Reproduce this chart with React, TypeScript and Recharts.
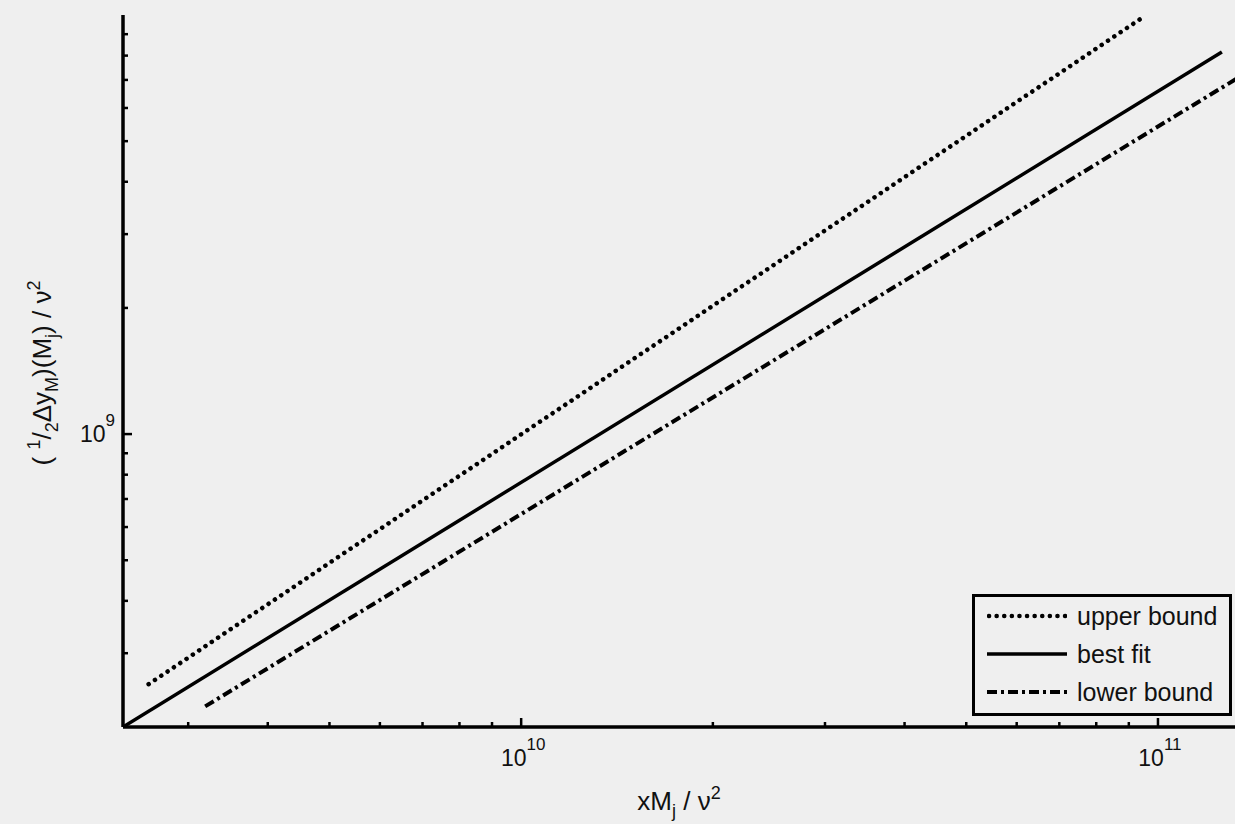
import React from 'react'
import { LineChart, Line, XAxis, YAxis, Legend, Label } from 'recharts'

// values
const xDomain = [2.37e9, 1.36e11]
const yDomain = [2.0e8, 1.0e10]

const xTicks = [3e9, 4e9, 5e9, 6e9, 7e9, 8e9, 9e9, 1e10, 2e10, 3e10, 4e10, 5e10, 6e10, 7e10, 8e10, 9e10, 1e11]
const yTicks = [3e8, 4e8, 5e8, 6e8, 7e8, 8e8, 9e8, 1e9, 2e9, 3e9, 4e9, 5e9, 6e9, 7e9, 8e9, 9e9]

const upperX = [2.6e9, 9.54e10]
const upperY = [2.53e8, 9.95e9]
const fitX = [2.37e9, 1.26e11]
const fitY = [2.0e8, 8.16e9]
const lowerX = [3.19e9, 1.36e11]
const lowerY = [2.24e8, 7.2e9]

const seriesNames = ['upper bound', 'best fit', 'lower bound']

const toPoints = (xs: number[], ys: number[]) => xs.map((x, i) => ({ x, y: ys[i] }))

const upperData = toPoints(upperX, upperY)
const fitData = toPoints(fitX, fitY)
const lowerData = toPoints(lowerX, lowerY)

const FONT = '"Liberation Sans", Arial, Helvetica, sans-serif'
const BG = '#efefef'
const INK = '#111'

const dashStyles: Record<string, { dash?: string; width: number; cap: 'round' | 'butt' }> = {
  'upper bound': { dash: '0.1 7.5', width: 4.5, cap: 'round' },
  'best fit': { width: 3.5, cap: 'butt' },
  'lower bound': { dash: '10 4 3 4', width: 4, cap: 'butt' }
}

const isDecade = (v: number) => {
  const e = Math.round(Math.log10(v))
  return Math.abs(Math.log10(v) - e) < 1e-6
}

const XTick = (props: any) => {
  const { x, y, payload } = props
  const v = payload.value
  const major = isDecade(v)
  const e = Math.round(Math.log10(v))
  return (
    <g>
      <line x1={x} x2={x} y1={y} y2={y - (major ? 9 : 5)} stroke="#000" strokeWidth={2.5} />
      {major && (
        <text x={x + 2} y={y + 39} textAnchor="middle" fontSize={23} fill={INK} fontFamily={FONT}>
          10
          <tspan dy={-16} fontSize={17}>{e}</tspan>
        </text>
      )}
    </g>
  )
}

const YTick = (props: any) => {
  const { x, y, payload } = props
  const v = payload.value
  const major = isDecade(v)
  const e = Math.round(Math.log10(v))
  return (
    <g>
      <line x1={x} x2={x + (major ? 9 : 5)} y1={y} y2={y} stroke="#000" strokeWidth={2.5} />
      {major && (
        <text x={x - 8} y={y + 8} textAnchor="end" fontSize={23} fill={INK} fontFamily={FONT}>
          10
          <tspan dy={-16} fontSize={17}>{e}</tspan>
        </text>
      )}
    </g>
  )
}

const YTitle = () => (
  <text
    x={51}
    y={373}
    transform="rotate(-90, 51, 373)"
    textAnchor="middle"
    fontSize={26}
    fill={INK}
    fontFamily={FONT}
  >
    {'( '}
    <tspan dy={-11} fontSize={18}>1</tspan>
    <tspan dy={11}>/</tspan>
    <tspan dy={7} fontSize={18}>2</tspan>
    <tspan dy={-7}>Δy</tspan>
    <tspan dy={7} fontSize={18}>M</tspan>
    <tspan dy={-7}>)(M</tspan>
    <tspan dy={7} fontSize={18}>j</tspan>
    <tspan dy={-7}>) / ν</tspan>
    <tspan dy={-11} fontSize={18}>2</tspan>
  </text>
)

const XTitle = () => (
  <text x={679} y={810} textAnchor="middle" fontSize={26} fill={INK} fontFamily={FONT}>
    xM
    <tspan dy={7} fontSize={18}>j</tspan>
    <tspan dy={-7}>{' / ν'}</tspan>
    <tspan dy={-11} fontSize={18}>2</tspan>
  </text>
)

const renderLegend = () => (
  <div
    style={{
      boxSizing: 'border-box',
      width: 260,
      height: 122,
      border: '3px solid #000',
      background: BG,
      fontFamily: FONT,
      fontSize: 25,
      color: INK
    }}
  >
    {seriesNames.map((name) => {
      const s = dashStyles[name]
      return (
        <div key={name} style={{ display: 'flex', alignItems: 'center', height: 38, paddingLeft: 12 }}>
          <svg width={80} height={10} style={{ display: 'block' }}>
            <line
              x1={s.cap === 'round' ? 2 : 0}
              x2={80}
              y1={5}
              y2={5}
              stroke="#000"
              strokeWidth={s.width}
              strokeDasharray={s.dash}
              strokeLinecap={s.cap}
            />
          </svg>
          <span style={{ marginLeft: 10, lineHeight: '38px' }}>{name}</span>
        </div>
      )
    })}
  </div>
)

export default function App() {
  return (
    <div
      style={{
        position: 'absolute',
        left: 0,
        top: 0,
        width: 1235,
        height: 824,
        overflow: 'hidden',
        background: BG
      }}
    >
      <LineChart width={1300} height={824} margin={{ top: 15, right: 57, bottom: 47, left: 63 }}>
        <XAxis
          type="number"
          dataKey="x"
          scale="log"
          domain={xDomain}
          allowDataOverflow
          ticks={xTicks}
          interval={0}
          tick={XTick}
          tickLine={false}
          tickSize={0}
          tickMargin={0}
          height={50}
          axisLine={{ stroke: '#000', strokeWidth: 3.5 }}
        >
          <Label content={XTitle} />
        </XAxis>
        <YAxis
          type="number"
          dataKey="y"
          scale="log"
          domain={yDomain}
          allowDataOverflow
          ticks={yTicks}
          interval={0}
          tick={YTick}
          tickLine={false}
          tickSize={0}
          tickMargin={0}
          width={60}
          axisLine={{ stroke: '#000', strokeWidth: 3.5 }}
        >
          <Label content={YTitle} />
        </YAxis>
        <Legend
          layout="vertical"
          align="center"
          verticalAlign="middle"
          content={renderLegend}
          wrapperStyle={{ left: 972, top: 594, width: 260, height: 122 }}
        />
        <Line
          data={upperData}
          dataKey="y"
          name={seriesNames[0]}
          type="linear"
          dot={false}
          stroke="#000"
          strokeWidth={dashStyles['upper bound'].width}
          strokeDasharray={dashStyles['upper bound'].dash}
          strokeLinecap="round"
          isAnimationActive={false}
        />
        <Line
          data={fitData}
          dataKey="y"
          name={seriesNames[1]}
          type="linear"
          dot={false}
          stroke="#000"
          strokeWidth={dashStyles['best fit'].width}
          isAnimationActive={false}
        />
        <Line
          data={lowerData}
          dataKey="y"
          name={seriesNames[2]}
          type="linear"
          dot={false}
          stroke="#000"
          strokeWidth={dashStyles['lower bound'].width}
          strokeDasharray={dashStyles['lower bound'].dash}
          isAnimationActive={false}
        />
      </LineChart>
    </div>
  )
}
